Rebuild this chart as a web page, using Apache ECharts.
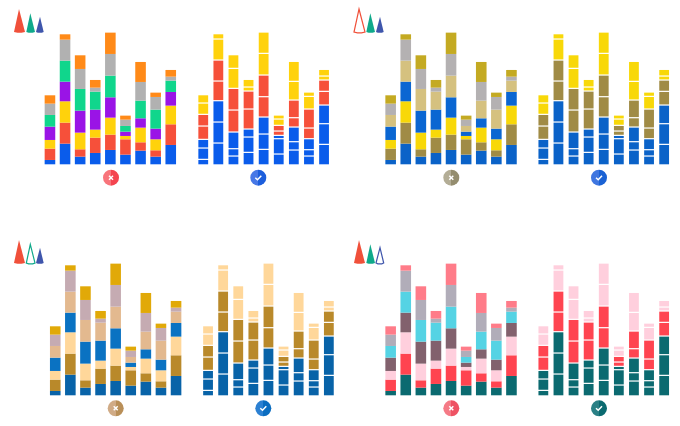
<!DOCTYPE html>
<html>
<head>
<meta charset="utf-8">
<style>html,body{margin:0;padding:0;background:#fff}#c{width:680px;height:426px;filter:blur(0.3px)}</style>
<script src="https://cdn.jsdelivr.net/npm/echarts@6/dist/echarts.min.js"></script>
</head>
<body>
<div id="c"></div>
<script>
var categories = ['1','2','3','4','5','6','7','8','9'];
var seg1 = [13,62,23,34,43,29,41,23,58];
var seg2 = [34,63,22,46,46,46,25,19,62];
var seg3 = [26,64,50,24,51,10,44,33,56];
var seg4 = [40,59,66,60,61,13,28,32,41];
var seg5 = [35,63,65,54,65,17,53,57,34];
var seg6 = [34,63,60,12,65,19,56,38,12];
var seg7 = [25,16,41,23,64,12,60,13,20];
var segments = [seg1,seg2,seg3,seg4,seg5,seg6,seg7];

var paletteBlue  = ['#0a5ceb','#f6503a','#ffd20c','#9a14e6','#10d68c','#b1b1b1','#ff8a18'];
var paletteOlive = ['#0a62c8','#a08b45','#f8d808','#0a66d2','#d5c17f','#b4b1b2','#c4aa22'];
var paletteAmber = ['#0863a8','#b9892a','#ffd79a','#0a72c2','#e3b98f','#c5abb2','#e1a908'];
var paletteRose  = ['#0b6a70','#ff4450','#ffcfdd','#82616d','#55d3e4','#b1adb9','#ff7c89'];
var groupMap = [0,0,0,1,1,2,2];

var panels = [
  {pal:paletteBlue,  lx:42.4,  rx:195.7, base:164.3, ox:0,   oy:0,   hollow:-1, bl:[111,177.7], br:[258.3,177.7],
   blc:['#f8747b','#f4444f'], brc:['#4778e6','#1c5edc']},
  {pal:paletteOlive, lx:383.1, rx:535.8, base:164.3, ox:340, oy:0,   hollow:0,  bl:[451.3,177.7], br:[599,177.7],
   blc:['#b3ad96','#948d6e'], brc:['#3f76e0','#1a62d4']},
  {pal:paletteAmber, lx:47.7,  rx:200.5, base:395.3, ox:0,   oy:231, hollow:1,  bl:[115.7,408.3], br:[263.3,408.3],
   blc:['#d0ab86','#b98f58'], brc:['#2b80d2','#0a6cc0']},
  {pal:paletteRose,  lx:383.1, rx:535.8, base:395.3, ox:340, oy:231, hollow:2,  bl:[451.3,408.3], br:[599,408.3],
   blc:['#f57a86','#ee5263'], brc:['#2a8085','#0b6a70']}
];
var legendColors = ['#f0503a','#0fa98a','#3f56ac'];
var legendTri = [[19,9,14,25,32],[30.3,13.3,26.3,35,32],[40,16.7,36,43.7,32]];

var grids=[],xAxes=[],yAxes=[],series=[],graphic=[];
function addChart(x,base,colors,gapped){
  var idx=grids.length;
  grids.push({left:x,top:base-140,width:135.9,height:140});
  xAxes.push({type:'category',gridIndex:idx,data:categories,show:false});
  yAxes.push({type:'value',gridIndex:idx,min:0,max:420,show:false});
  if(gapped){
    var running=categories.map(function(){return 0;});
    segments.forEach(function(vals,i){
      var rows=vals.map(function(v,k){var from=running[k];running[k]+=v;return [k,from,running[k]];});
      series.push({type:'custom',xAxisIndex:idx,yAxisIndex:idx,data:rows,encode:{x:0,y:[1,2]},silent:true,
        renderItem:function(params,api){
          var lo=api.coord([api.value(0),api.value(1)]);
          var hi=api.coord([api.value(0),api.value(2)]);
          var w=9.8;
          var gap=i===0?0:1.2;
          return {type:'rect',shape:{x:lo[0]-w/2,y:hi[1],width:w,height:Math.max(0,lo[1]-hi[1]-gap)},style:{fill:colors[i]}};
        }});
    });
  } else {
    segments.forEach(function(vals,i){
      series.push({type:'bar',xAxisIndex:idx,yAxisIndex:idx,stack:'s'+idx,data:vals,barWidth:10.6,
        itemStyle:{color:colors[i]},silent:true});
    });
  }
}
function badge(p,cols,good){
  graphic.push({type:'circle',shape:{cx:p[0],cy:p[1],r:8},style:{fill:{type:'linear',x:0,y:0,x2:1,y2:0,colorStops:[
    {offset:0,color:cols[0]},{offset:0.5,color:cols[0]},{offset:0.5,color:cols[1]},{offset:1,color:cols[1]}]}}});
  var st={stroke:'#fff',lineWidth:1.5,fill:null};
  if(good){
    graphic.push({type:'polyline',shape:{points:[[p[0]-3,p[1]],[p[0]-0.8,p[1]+2],[p[0]+3,p[1]-2]]},style:st});
  } else {
    graphic.push({type:'polyline',shape:{points:[[p[0]-2,p[1]-2],[p[0]+2,p[1]+2]]},style:st});
    graphic.push({type:'polyline',shape:{points:[[p[0]+2,p[1]-2],[p[0]-2,p[1]+2]]},style:st});
  }
}
panels.forEach(function(p){
  addChart(p.lx,p.base,p.pal,false);
  addChart(p.rx,p.base,groupMap.map(function(k){return [p.pal[0],p.pal[1],p.pal[2]][k];}),true);
  badge(p.bl,p.blc,false);
  badge(p.br,p.brc,true);
  legendTri.forEach(function(t,i){
    var by=t[4]+p.oy,dx=p.ox;
    var pts=[[t[0]+dx,t[1]+p.oy],[t[3]+dx,by],[(t[2]+t[3])/2+dx+2,by+0.8],[(t[2]+t[3])/2+dx-2,by+0.8],[t[2]+dx,by]];
    var hollow=p.hollow===i;
    graphic.push({type:'polygon',shape:{points:pts},
      style:hollow?{fill:'#fff',stroke:legendColors[i],lineWidth:1.2}:{fill:legendColors[i]}});
  });
});
var chart=echarts.init(document.getElementById('c'),null,{renderer:'canvas'});
chart.setOption({animation:false,backgroundColor:'#fff',tooltip:{show:false},
  grid:grids,xAxis:xAxes,yAxis:yAxes,series:series,graphic:graphic});
</script>
</body>
</html>
